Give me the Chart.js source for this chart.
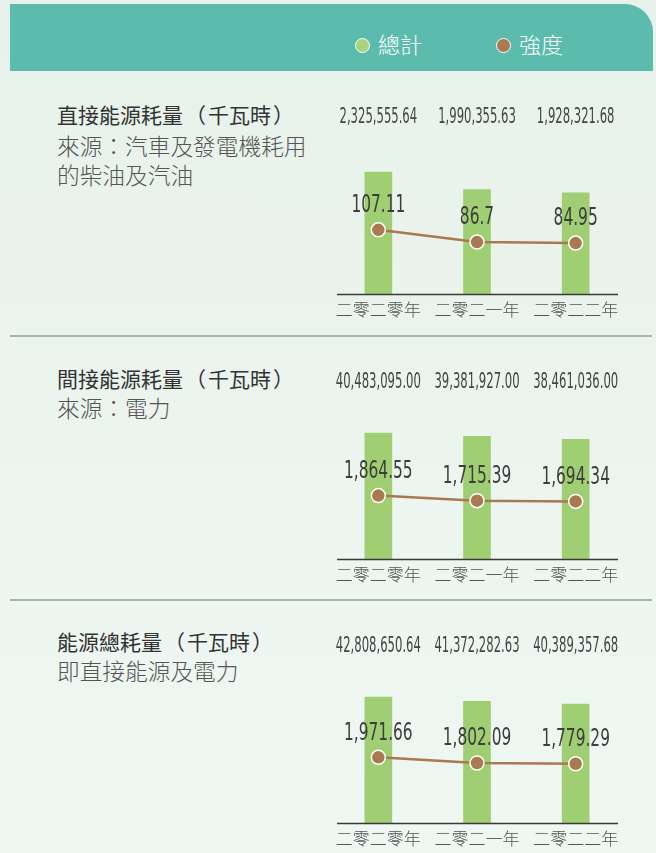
<!DOCTYPE html>
<html>
<head>
<meta charset="utf-8">
<script src="https://cdn.jsdelivr.net/npm/chart.js"></script>
<style>
  html, body { margin: 0; padding: 0; }
  body {
    width: 656px; height: 853px; position: relative; overflow: hidden;
    background: linear-gradient(#e7f2ea, #eff7f2);
    font-family: "Noto Sans CJK TC", "Noto Sans", sans-serif;
  }
  .head {
    position: absolute; left: 10px; top: 4px; width: 643px; height: 67px;
    background: #5bbcae; border-top-right-radius: 28px;
  }
  .lg { position: absolute; top: 24px; color: #fff; font-size: 22px; font-weight: 300; line-height: 30px; white-space: nowrap; }
  .dot {
    display: inline-block; width: 13px; height: 13px; border-radius: 50%;
    border: 1.5px solid #fff; vertical-align: middle; margin-right: 8px; position: relative; top: -2px;
  }
  .sep { position: absolute; left: 10px; width: 642px; height: 2px; background: #a9b5ae; }
  .ttl { position: absolute; left: 57px; font-size: 21px; line-height: 30px; color: #333; font-weight: 400; white-space: nowrap; }
  .ttl .p { margin: 0 2px; }
  .sub { position: absolute; left: 57px; font-size: 22.7px; line-height: 28.5px; color: #555; font-weight: 300; white-space: nowrap; }
  canvas { position: absolute; left: 329px; }
</style>
</head>
<body>
<div class="head">
  <div class="lg" style="left:345px"><span class="dot" style="background:#a8d37a"></span>總計</div>
  <div class="lg" style="left:486px"><span class="dot" style="background:#ab7a50"></span>強度</div>
</div>

<div class="ttl" style="top:99px">直接能源耗量<span class="p">（</span>千瓦時<span class="p">）</span></div>
<div class="sub" style="top:132px">來源：汽車及發電機耗用<br>的柴油及汽油</div>
<canvas id="c1" width="296" height="228" style="top:96px"></canvas>
<div class="sep" style="top:335px"></div>

<div class="ttl" style="top:363px">間接能源耗量<span class="p">（</span>千瓦時<span class="p">）</span></div>
<div class="sub" style="top:394px">來源：電力</div>
<canvas id="c2" width="296" height="228" style="top:361px"></canvas>
<div class="sep" style="top:599px"></div>

<div class="ttl" style="top:626px">能源總耗量<span class="p">（</span>千瓦時<span class="p">）</span></div>
<div class="sub" style="top:657px">即直接能源及電力</div>
<canvas id="c3" width="296" height="228" style="top:625px"></canvas>

<script>
// 年份
const years = ['二零二零年', '二零二一年', '二零二二年'];

// 總計 (千瓦時)
const directTotal = [2325555.64, 1990355.63, 1928321.68];
const indirectTotal = [40483095.00, 39381927.00, 38461036.00];
const allTotal = [42808650.64, 41372282.63, 40389357.68];

// 強度
const directIntensity = [107.11, 86.7, 84.95];
const indirectIntensity = [1864.55, 1715.39, 1694.34];
const allIntensity = [1971.66, 1802.09, 1779.29];

// 每個圖的軸上限 (總計, 強度)
const totalAxisMax = [3050000, 51400000, 54360000];
const intensityAxisMax = [267, 4706, 4805];

const GREEN = '#9fcf72';
const BROWN = '#a9794f';
const NUM_FONT = '"Liberation Sans Narrow", "DejaVu Sans Condensed", sans-serif';

function fmtTotal(v) {
    return v.toLocaleString('en-US', { minimumFractionDigits: 2, maximumFractionDigits: 2 });
}
function fmtIntensity(v) {
    return v.toLocaleString('en-US', { maximumFractionDigits: 2 });
}

// 窄字體數字: 依數字寬度橫向壓縮
function narrowText(ctx, text, x, y, size, digitW) {
    ctx.save();
    ctx.font = size + 'px ' + NUM_FONT;
    const sx = digitW / ctx.measureText('0').width;
    ctx.translate(x, y);
    ctx.scale(sx, 1);
    ctx.fillText(text, 0, 0);
    ctx.restore();
}

const valueLabels = {
    id: 'valueLabels',
    afterDatasetsDraw(chart) {
        const ctx = chart.ctx;
        const area = chart.chartArea;
        ctx.save();
        ctx.fillStyle = '#444';
        ctx.textAlign = 'center';
        ctx.textBaseline = 'middle';
        const bars = chart.getDatasetMeta(0);
        bars.data.forEach((el, i) => {
            narrowText(ctx, fmtTotal(chart.data.datasets[0].data[i]), el.x, area.top - 16, 20.5, 7.4);
        });
        ctx.fillStyle = '#3d3d3d';
        const pts = chart.getDatasetMeta(1);
        pts.data.forEach((el, i) => {
            narrowText(ctx, fmtIntensity(chart.data.datasets[1].data[i]), el.x, el.y - 24, 24, 9.8);
        });
        // 底線
        ctx.strokeStyle = '#3a3a3a';
        ctx.lineWidth = 1.5;
        ctx.beginPath();
        ctx.moveTo(area.left + 8, area.bottom + 0.5);
        ctx.lineTo(area.right - 7, area.bottom + 0.5);
        ctx.stroke();
        ctx.restore();
    }
};

function makeChart(id, totals, intensity, idx) {
    new Chart(document.getElementById(id), {
        type: 'bar',
        data: {
            labels: years,
            datasets: [{
                type: 'bar',
                data: totals,
                backgroundColor: GREEN,
                barThickness: 27,
                yAxisID: 'y',
                order: 2
            }, {
                type: 'line',
                data: intensity,
                borderColor: BROWN,
                borderWidth: 2.5,
                pointRadius: 7,
                pointHoverRadius: 7,
                pointBackgroundColor: BROWN,
                pointBorderColor: '#fff',
                pointBorderWidth: 1.5,
                tension: 0,
                yAxisID: 'y1',
                order: 1
            }]
        },
        options: {
            responsive: false,
            animation: false,
            layout: { autoPadding: false, padding: { top: 38, left: 0, right: 0, bottom: 0 } },
            plugins: { legend: { display: false }, tooltip: { enabled: false } },
            scales: {
                x: {
                    offset: true,
                    grid: { display: false },
                    border: { display: false },
                    ticks: {
                        color: '#555',
                        padding: -3,
                        maxRotation: 0,
                        font: { family: '"Noto Sans CJK TC"', size: 17, weight: '300' }
                    },
                    afterFit(scale) { scale.height = 30; }
                },
                y: { display: false, min: 0, max: totalAxisMax[idx] },
                y1: { display: false, min: 0, max: intensityAxisMax[idx] }
            }
        },
        plugins: [valueLabels]
    });
}

makeChart('c1', directTotal, directIntensity, 0);
makeChart('c2', indirectTotal, indirectIntensity, 1);
makeChart('c3', allTotal, allIntensity, 2);
</script>
</body>
</html>
